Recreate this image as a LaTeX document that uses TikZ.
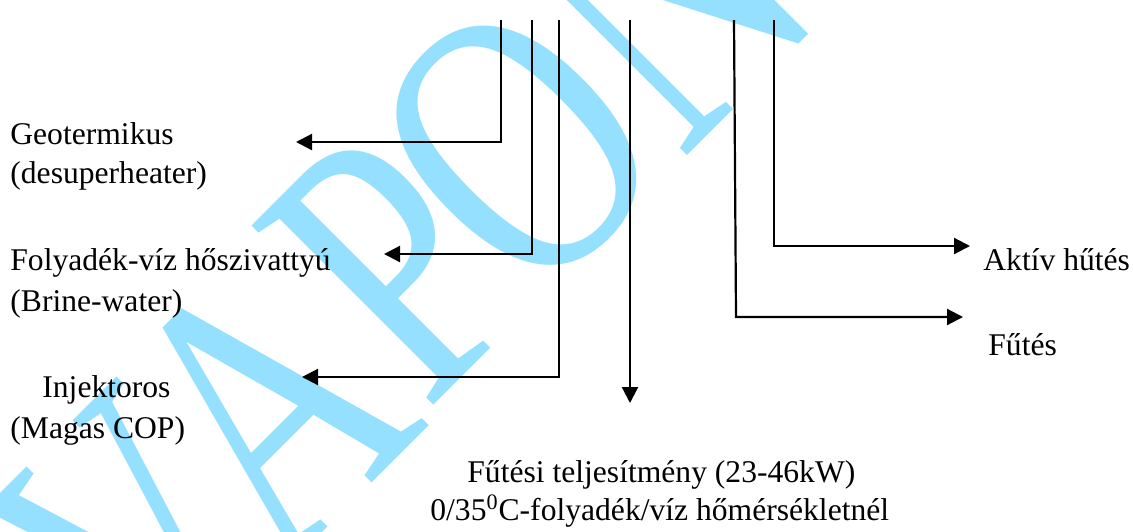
\documentclass[tikz,border=0pt]{standalone}
\usepackage{fontspec}
\setmainfont{Liberation Serif}
\usetikzlibrary{arrows.meta}
\definecolor{wmcyan}{RGB}{148,224,254}
\tikzset{
  lbl/.style={anchor=base west, inner sep=0pt, font=\fontsize{15.8}{19}\selectfont},
  wire/.style={line width=1.1pt, line join=miter},
  arr/.style={wire, -{Triangle[length=8pt,width=8pt]}},
  wmark/.style={rotate=45, anchor=base west, inner sep=0pt, text=wmcyan,
    font=\fontsize{195}{195}\selectfont}
}
\begin{document}
\begin{tikzpicture}[x=0.5pt,y=-0.5pt]
\useasboundingbox (0,0) rectangle (1133,531);
% watermark (one letter per node)
\begin{scope}
  \clip (0,0) rectangle (1133,531);
  \node[wmark] (wm1) at (150,705) {\scalebox{0.75}[1]{V}};
  \node[wmark] (wm2) at (281,574) {\scalebox{0.75}[1]{A}};
  \node[wmark] (wm3) at (426,413) {\scalebox{0.75}[1]{P}};
  \node[wmark] (wm4) at (532,311) {\scalebox{0.75}[1]{O}};
  \node[wmark] (wm5) at (681,162) {\scalebox{0.75}[1]{N}};
\end{scope}
% labels
\node[lbl] (geo1) at (10,144) {Geotermikus};
\node[lbl] (geo2) at (10,183) {(desuperheater)};
\node[lbl] (fol1) at (10,270) {Folyadék-víz hőszivattyú};
\node[lbl] (fol2) at (10,311.5) {(Brine-water)};
\node[lbl] (inj1) at (42,397) {Injektoros};
\node[lbl] (inj2) at (10,438) {(Magas COP)};
\node[lbl] (akt) at (983,270) {Aktív hűtés};
\node[lbl] (fut) at (988,355) {Fűtés};
\node[lbl] (tel1) at (467,482) {Fűtési teljesítmény (23-46kW)};
\node[lbl] (tel2) at (430,520) {0/35\textsuperscript{0}C-folyadék/víz hőmérsékletnél};
% connector end points
\coordinate (t1) at (501,20);  \coordinate (h1) at (296,142);
\coordinate (t2) at (532,20);  \coordinate (h2) at (384,254);
\coordinate (t3) at (559,20);  \coordinate (h3) at (302,377);
\coordinate (t4) at (630,20);  \coordinate (h4) at (630,403);
\coordinate (t5) at (734,20);  \coordinate (c5) at (736,317); \coordinate (h5) at (963,317);
\coordinate (t6) at (774,20);  \coordinate (h6) at (970,246);
% connectors
\draw[arr] (t1) |- (h1);
\draw[arr] (t2) |- (h2);
\draw[arr] (t3) |- (h3);
\draw[arr] (t4) -- (h4);
\draw[arr] (t5) -- (c5) -- (h5);
\draw[arr] (t6) |- (h6);
\end{tikzpicture}
\end{document}
